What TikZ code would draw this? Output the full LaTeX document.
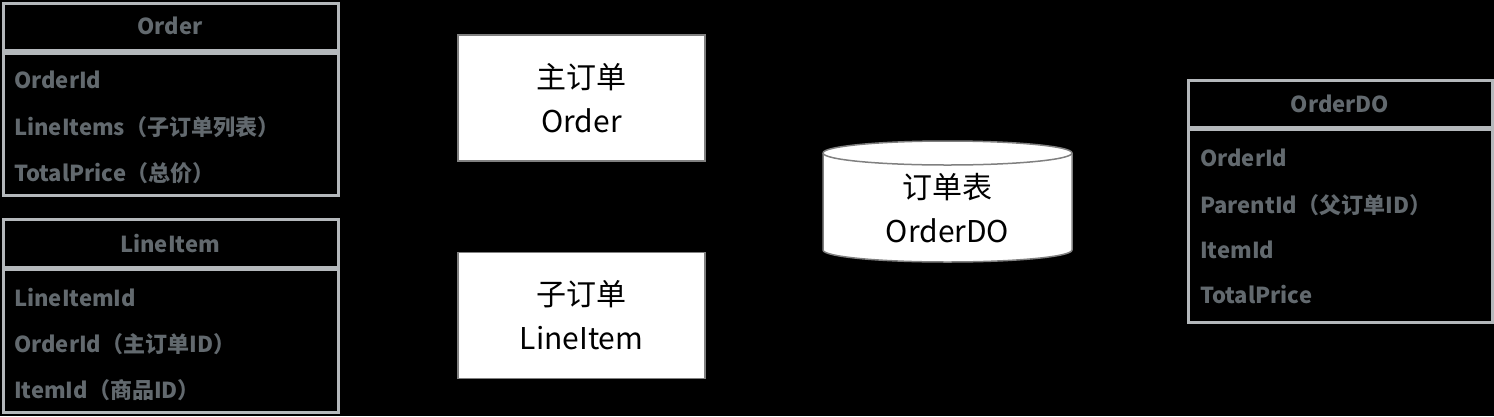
\documentclass[tikz,border=0pt]{standalone}
\usepackage{fontspec}
\setmainfont{Noto Sans CJK SC}
\usetikzlibrary{positioning}
\definecolor{fieldgray}{HTML}{62696E}
\definecolor{framegray}{HTML}{B4B8BB}
\begin{document}
\begin{tikzpicture}[x=1pt,y=-1pt]
        \tikzstyle{frame}=[draw=framegray,line width=3pt]
        \tikzstyle{head}=[text=fieldgray,font=\fontsize{22}{26}\selectfont\bfseries]
        \tikzstyle{field}=[text=fieldgray,font=\fontsize{22}{26}\selectfont\bfseries,anchor=west,inner sep=0pt]
        \tikzstyle{box}=[rectangle,draw=gray,line width=1.5pt,fill=white,minimum width=247pt,minimum height=126pt,align=center,font=\fontsize{30}{44}\selectfont]
        \fill[black] (0,0) rectangle (1494,416);
        \useasboundingbox (0,0) rectangle (1494,416);
        % Order class
        \draw[frame] (3,3) rectangle (338,50);
        \draw[frame] (3,53) rectangle (338,195);
        \node[head] (ordert) at (170,26) {Order};
        \node[field] (o1) at (14,80) {OrderId};
        \node[field] (o2) at (14,127) {LineItems（子订单列表）};
        \node[field] (o3) at (14,173) {TotalPrice（总价）};
        % LineItem class
        \draw[frame] (3,219) rectangle (338,267);
        \draw[frame] (3,269) rectangle (338,412);
        \node[head] (itemt) at (170,244) {LineItem};
        \node[field] (l1) at (14,298) {LineItemId};
        \node[field] (l2) at (14,344) {OrderId（主订单ID）};
        \node[field] (l3) at (14,390) {ItemId（商品ID）};
        % OrderDO class
        \draw[frame] (1188,80) rectangle (1492,127);
        \draw[frame] (1188,129) rectangle (1492,322);
        \node[head] (dot) at (1340,104) {OrderDO};
        \node[field] (d1) at (1200,158) {OrderId};
        \node[field] (d2) at (1200,205) {ParentId（父订单ID）};
        \node[field] (d3) at (1200,250) {ItemId};
        \node[field] (d4) at (1200,295) {TotalPrice};
        % middle
        \node[box] (order) at (581.5,98) {主订单\\Order};
        \node[box] (item) at (581.5,315.5) {子订单\\LineItem};
        \filldraw[fill=white,draw=gray,line width=1.5pt] (823,153) -- (823,250)
            arc[x radius=124.5,y radius=-12,start angle=180,end angle=360] -- (1072,153)
            arc[x radius=124.5,y radius=-12,start angle=0,end angle=180];
        \draw[gray,line width=1.5pt] (823,153) arc[x radius=124.5,y radius=-12,start angle=180,end angle=360];
        \node[align=center,font=\fontsize{30}{44}\selectfont] (table) at (947.5,208) {订单表\\OrderDO};
\end{tikzpicture}
\end{document}
